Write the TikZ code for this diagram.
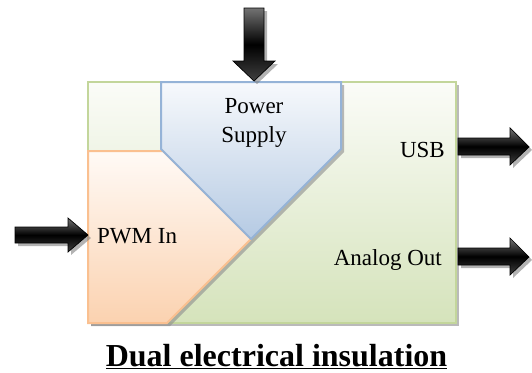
\documentclass[tikz,border=0pt]{standalone}
\usepackage{fontspec}
\setmainfont{Liberation Serif}
\usetikzlibrary{shadows}
\definecolor{grnB}{HTML}{C3D69B}
\definecolor{grnT}{HTML}{FBFCF8}
\definecolor{grnF}{HTML}{D5E3BB}
\definecolor{bluB}{HTML}{95B3D7}
\definecolor{bluT}{HTML}{F7F9FC}
\definecolor{bluF}{HTML}{B5CAE3}
\definecolor{orgB}{HTML}{FAC090}
\definecolor{orgT}{HTML}{FFFAF6}
\definecolor{orgF}{HTML}{FBD2B0}
\begin{document}
\begin{tikzpicture}[x=1pt,y=-1pt,
  panel/.style={line width=2pt, line join=miter,
    drop shadow={shadow xshift=3pt, shadow yshift=-3pt, fill=black!45, opacity=0.6}},
  fatarrow/.style={draw=black, line width=0.7pt, line join=miter,
    top color=black!55, bottom color=black!75, middle color=black,
    drop shadow={shadow xshift=3pt, shadow yshift=-3pt, fill=black!50, opacity=0.6}},
  lbl/.style={font=\fontsize{23}{27}\selectfont, inner sep=0pt},
]
\useasboundingbox (0,0) rectangle (532,372);
% outer board
\path[panel, draw=grnB, top color=grnT, bottom color=grnF] (88,82) rectangle (456,323);
% PWM region
\path[panel, draw=orgB, top color=orgT, bottom color=orgF]
  (88,151) -- (163,151) -- (251,239) -- (167,323) -- (88,323) -- cycle;
% power supply region
\path[panel, draw=bluB, top color=bluT, bottom color=bluF]
  (161,82) -- (341,82) -- (341,149) -- (251,239) -- (161,149) -- cycle;
% arrows
\path[fatarrow] (244,8) -- (264,8) -- (264,61) -- (275,61) -- (254,81) -- (233,61) -- (244,61) -- cycle;
\path[fatarrow] (15,227) -- (68,227) -- (68,218) -- (88,235) -- (68,252) -- (68,243) -- (15,243) -- cycle;
\path[fatarrow] (458,138) -- (510,138) -- (510,128) -- (529,147) -- (510,165) -- (510,155) -- (458,155) -- cycle;
\path[fatarrow] (458,248) -- (510,248) -- (510,238) -- (529,257) -- (510,275) -- (510,265) -- (458,265) -- cycle;
% labels
\node[lbl, anchor=base] (power) at (254,113) {Power};
\node[lbl, anchor=base] (supply) at (254,142) {Supply};
\node[lbl, anchor=base east] (usb) at (445,157) {USB};
\node[lbl, anchor=base east] (analog) at (442,265) {Analog Out};
\node[lbl, anchor=base west] (pwm) at (97,243) {PWM In};
\node[inner sep=0pt, anchor=base, font=\fontsize{32}{36}\selectfont\bfseries] (title) at (276.5,366) {\underline{Dual electrical insulation}};
\end{tikzpicture}
\end{document}
